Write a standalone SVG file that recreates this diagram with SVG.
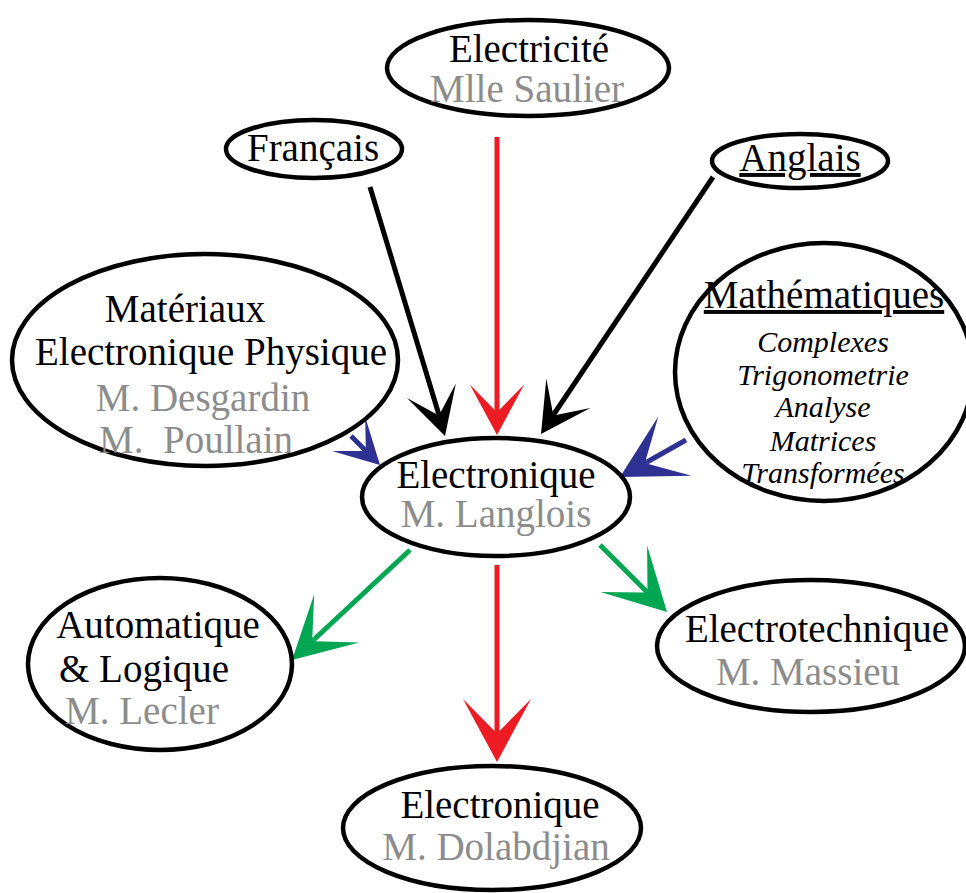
<svg xmlns="http://www.w3.org/2000/svg" xmlns:xlink="http://www.w3.org/1999/xlink" width="966" height="893" viewBox="0 0 966 893">
<style>
.node ellipse{fill:#fff;stroke:#000;stroke-width:4.5}
text{font-family:"Liberation Serif","Times New Roman",serif;font-size:39px;text-anchor:middle;fill:#000}
.g{fill:#8c8c8c}
.it{font-style:italic;font-size:30px}
.u{text-decoration:underline}
.c line{stroke-width:5;fill:none}
</style>
<defs>
<path id="head" d="M0,0 L-63,-34 L-31,-2.5 L-31,2.5 L-63,34 Z"/>
</defs>
<rect width="966" height="893" fill="#fff"/>
<g id="connectors" class="c">
<line x1="497" y1="137" x2="497" y2="412" stroke="#ED1C24"/>
<use xlink:href="#head" fill="#ED1C24" transform="translate(497,435) rotate(90) scale(0.8)"/>
<line x1="370" y1="187" x2="439" y2="415" stroke="#000"/>
<use xlink:href="#head" fill="#000" transform="translate(445,436) rotate(73.3) scale(0.75)"/>
<line x1="713" y1="177" x2="554" y2="414" stroke="#000"/>
<use xlink:href="#head" fill="#000" transform="translate(541,434) rotate(123.8) scale(0.78)"/>
<line x1="351" y1="436" x2="365" y2="450" stroke="#2E3192"/>
<use xlink:href="#head" fill="#2E3192" transform="translate(380,465) rotate(44.5) scale(0.7)"/>
<line x1="686" y1="440" x2="647" y2="462" stroke="#2E3192"/>
<use xlink:href="#head" fill="#2E3192" transform="translate(620,477) rotate(150.7)"/>
<line x1="410" y1="550" x2="314" y2="639.5" stroke="#00A651"/>
<use xlink:href="#head" fill="#00A651" transform="translate(292,660) rotate(137) scale(0.97)"/>
<line x1="600" y1="545" x2="646" y2="591" stroke="#00A651"/>
<use xlink:href="#head" fill="#00A651" transform="translate(667,612) rotate(45) scale(0.97)"/>
<line x1="497" y1="565" x2="497" y2="733" stroke="#ED1C24"/>
<use xlink:href="#head" fill="#ED1C24" transform="translate(497,762) rotate(90)"/>
</g>
<g id="electricite" class="node">
<ellipse cx="528" cy="68" rx="141" ry="48"/>
<text x="529" y="62">Electricité</text>
<text class="g" x="527" y="102">Mlle Saulier</text>
</g>
<g id="francais" class="node">
<ellipse cx="314" cy="149" rx="88" ry="29"/>
<text x="313" y="161">Français</text>
</g>
<g id="anglais" class="node">
<ellipse cx="800" cy="161" rx="88" ry="27"/>
<text class="u" x="800" y="171">Anglais</text>
</g>
<g id="materiaux" class="node">
<ellipse cx="205" cy="360" rx="193" ry="106"/>
<text x="185" y="322">Matériaux</text>
<text x="211" y="365">Electronique Physique</text>
<text class="g" x="203" y="411">M. Desgardin</text>
<text class="g" x="196" y="453" xml:space="preserve">M.  Poullain</text>
</g>
<g id="mathematiques" class="node">
<ellipse cx="824" cy="372" rx="149" ry="129"/>
<text class="u" x="824" y="308">Mathématiques</text>
<text class="it" x="823" y="352">Complexes</text>
<text class="it" x="823" y="385">Trigonometrie</text>
<text class="it" x="823" y="417">Analyse</text>
<text class="it" x="823" y="451">Matrices</text>
<text class="it" x="823" y="483">Transformées</text>
</g>
<g id="electronique-langlois" class="node">
<ellipse cx="496" cy="497" rx="134" ry="59"/>
<text x="496" y="488">Electronique</text>
<text class="g" x="496" y="527">M. Langlois</text>
</g>
<g id="automatique" class="node">
<ellipse cx="160" cy="664" rx="132" ry="86"/>
<text x="158" y="638">Automatique</text>
<text x="144" y="682">&amp; Logique</text>
<text class="g" x="142" y="724">M. Lecler</text>
</g>
<g id="electrotechnique" class="node">
<ellipse cx="811" cy="646" rx="154" ry="66"/>
<text x="817" y="642">Electrotechnique</text>
<text class="g" x="808" y="685">M. Massieu</text>
</g>
<g id="electronique-dolabdjian" class="node">
<ellipse cx="492" cy="828" rx="149" ry="62"/>
<text x="500" y="818">Electronique</text>
<text class="g" x="496" y="860">M. Dolabdjian</text>
</g>
</svg>
